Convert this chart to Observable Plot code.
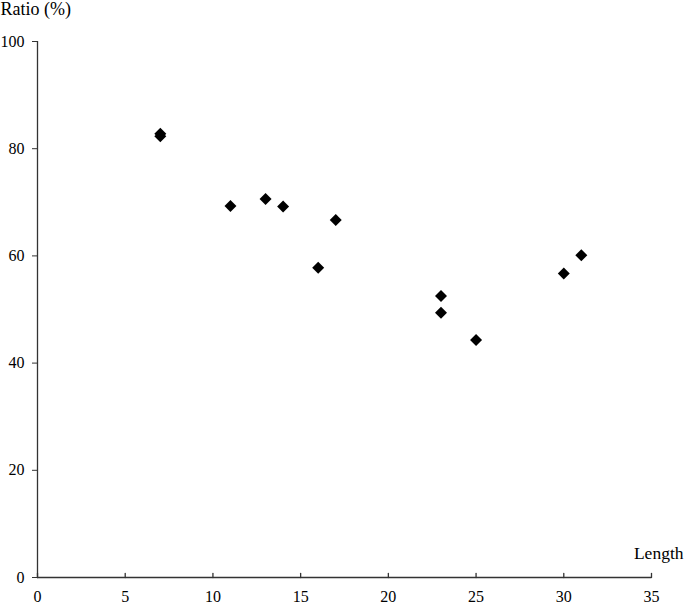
<!DOCTYPE html>
<html>
<head>
<meta charset="utf-8">
<script src="https://cdn.jsdelivr.net/npm/d3@7"></script>
<script src="https://cdn.jsdelivr.net/npm/@observablehq/plot@0.6"></script>
<style>
  html, body { margin: 0; padding: 0; background: #fff; }
  #chart svg { display: block; }
</style>
</head>
<body>
<div id="chart"></div>
<script>
const lengths = [7, 7, 11, 13, 14, 16, 17, 23, 23, 25, 30, 31];
const ratios  = [82.8, 82.3, 69.3, 70.6, 69.2, 57.8, 66.7, 52.5, 49.4, 44.3, 56.7, 60.1];
const xTicks = [0, 5, 10, 15, 20, 25, 30, 35];
const yTicks = [0, 20, 40, 60, 80, 100];
const xLabel = "Length";
const yLabel = "Ratio (%)";

const data = lengths.map((x, i) => ({x, y: ratios[i]}));
const axisColor = "#333";
const font = "'Liberation Serif', 'Times New Roman', serif";

const tickUp = {draw(context, l) { context.moveTo(0, 0); context.lineTo(0, -l); }};

const chart = Plot.plot({
  width: 685,
  height: 604,
  marginTop: 41,
  marginBottom: 27,
  marginLeft: 37,
  marginRight: 34,
  style: {fontFamily: font, fontSize: "16px", color: "#000", background: "#fff"},
  x: {domain: [0, 35]},
  y: {domain: [0, 100]},
  marks: [
    Plot.ruleX([0], {stroke: axisColor, strokeWidth: 1.3}),
    Plot.ruleY([0], {stroke: axisColor, strokeWidth: 1.3}),
    Plot.axisY(yTicks, {tickSize: 5, tickPadding: 8, stroke: axisColor, fill: "#000", label: null, fontSize: 16}),
    Plot.axisX(xTicks, {tickSize: 0, tickPadding: 13, fill: "#000", label: null, fontSize: 16}),
    Plot.vector(xTicks, {x: d => d, y: 0, length: 4, anchor: "start", shape: tickUp, stroke: axisColor, strokeWidth: 1.3}),
    Plot.dot(data, {x: "x", y: "y", symbol: "diamond2", r: 5.4, fill: "#000", stroke: "none"}),
    Plot.text([yLabel], {frameAnchor: "top-left", dx: -37, dy: -39, textAnchor: "start", lineAnchor: "top", fontSize: 18, fill: "#000"}),
    Plot.text([xLabel], {frameAnchor: "bottom-right", dx: 32, dy: -19, textAnchor: "end", lineAnchor: "bottom", fontSize: 17.5, fill: "#000"})
  ]
});
document.getElementById("chart").appendChild(chart);
</script>
</body>
</html>
